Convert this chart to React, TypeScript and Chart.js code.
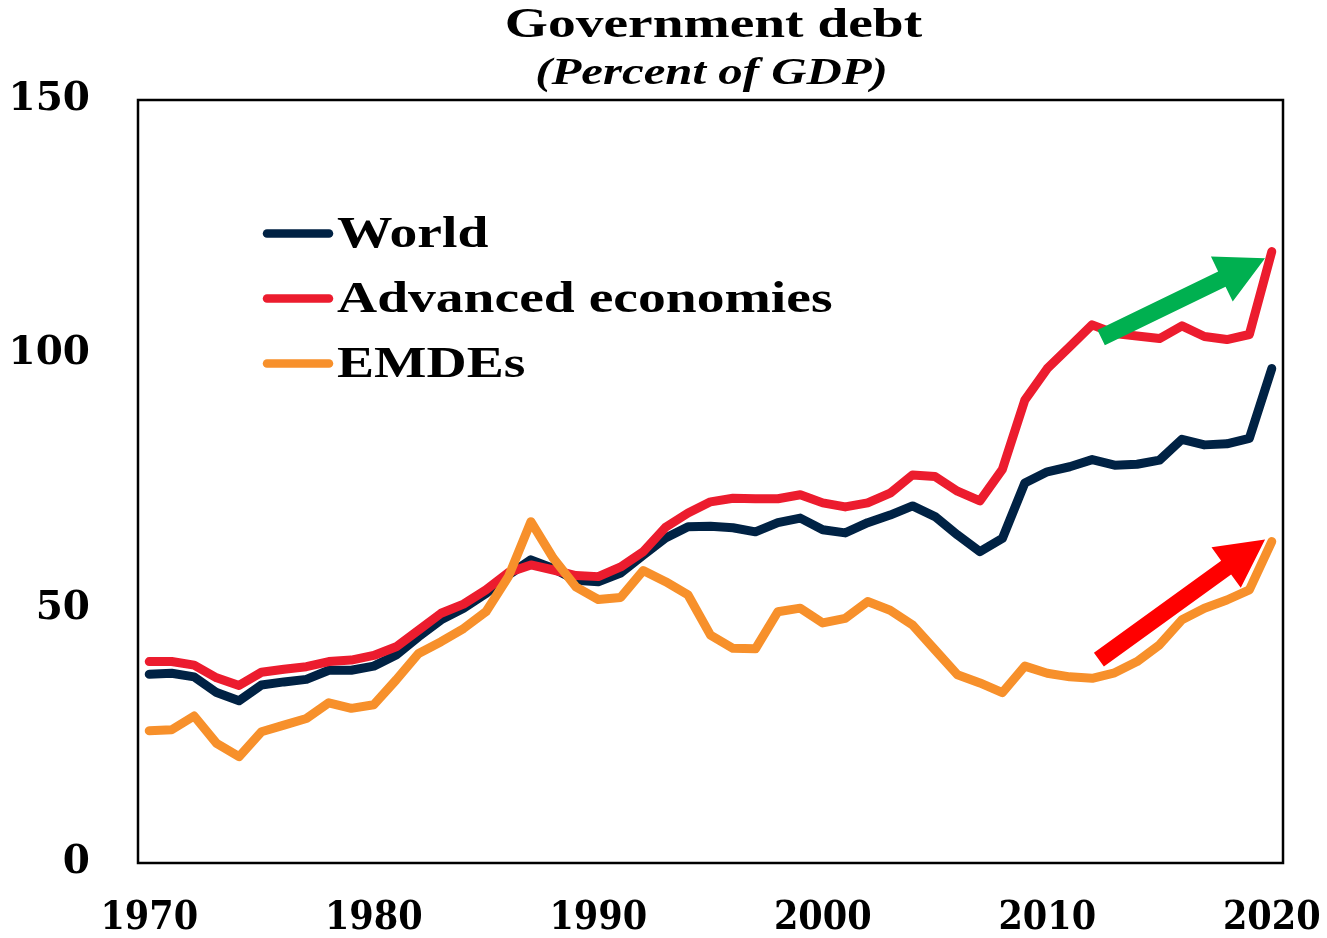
import { useEffect, useRef } from 'react';
import { Chart, registerables } from 'chart.js';

Chart.register(...registerables);

const years = [
  1970, 1971, 1972, 1973, 1974, 1975, 1976, 1977, 1978, 1979,
  1980, 1981, 1982, 1983, 1984, 1985, 1986, 1987, 1988, 1989,
  1990, 1991, 1992, 1993, 1994, 1995, 1996, 1997, 1998, 1999,
  2000, 2001, 2002, 2003, 2004, 2005, 2006, 2007, 2008, 2009,
  2010, 2011, 2012, 2013, 2014, 2015, 2016, 2017, 2018, 2019, 2020,
];

const world = [
  37.1, 37.3, 36.6, 33.5, 31.9, 35.0, 35.6, 36.1, 37.9, 37.9,
  38.7, 40.9, 44.5, 47.8, 50.1, 53.0, 56.6, 59.6, 57.9, 55.6,
  55.3, 57.0, 60.5, 63.9, 66.1, 66.2, 65.9, 65.1, 66.9, 67.8,
  65.5, 64.9, 66.9, 68.4, 70.2, 68.1, 64.5, 61.2, 63.8, 74.7,
  76.9, 77.9, 79.3, 78.2, 78.4, 79.2, 83.3, 82.2, 82.4, 83.5, 97.2,
];

const advanced = [
  39.6, 39.6, 38.9, 36.4, 34.9, 37.5, 38.1, 38.6, 39.6, 39.9,
  40.8, 42.5, 45.8, 49.1, 50.9, 53.7, 57.1, 58.6, 57.6, 56.5,
  56.3, 58.2, 61.2, 66.0, 68.8, 71.0, 71.7, 71.6, 71.6, 72.4,
  70.8, 70.0, 70.8, 72.7, 76.3, 76.0, 73.1, 71.2, 77.4, 91.0,
  97.2, 101.5, 105.8, 104.1, 103.6, 103.1, 105.6, 103.5, 102.9, 103.9, 120.2,
];

const emdes = [
  26.0, 26.2, 28.9, 23.5, 20.9, 25.8, 27.1, 28.4, 31.5, 30.4,
  31.1, 36.0, 41.2, 43.5, 46.1, 49.4, 56.3, 67.1, 59.9, 54.3,
  51.8, 52.2, 57.5, 55.3, 52.7, 44.8, 42.2, 42.1, 49.4, 50.1,
  47.2, 48.1, 51.4, 49.7, 46.8, 41.9, 37.0, 35.4, 33.5, 38.7,
  37.3, 36.6, 36.3, 37.4, 39.6, 42.9, 47.8, 50.1, 51.7, 53.7, 63.2,
];

const xTickLabels = ['1970', '1980', '1990', '2000', '2010', '2020'];
const yMin = 0;
const yMax = 150;
const yStep = 50;

const seriesLabels = ['World', 'Advanced economies', 'EMDEs'];
const seriesColors = ['#002244', '#EC1C2E', '#F7902B'];

const titleText = 'Government debt';
const subtitleText = '(Percent of GDP)';

// Arrow annotations in data units: [year, value]
const arrowColors = ['#00B050', '#FF0000'];
const arrowFrom = [
  [2012.4, 103.3],
  [2012.3, 40.0],
];
const arrowTo = [
  [2019.7, 118.9],
  [2019.7, 63.6],
];

function drawStretched(
  ctx: CanvasRenderingContext2D,
  text: string,
  x: number,
  y: number,
  font: string,
  sx: number,
  align: CanvasTextAlign
) {
  ctx.save();
  ctx.translate(x, y);
  ctx.scale(sx, 1);
  ctx.font = font;
  ctx.fillStyle = '#000';
  ctx.textAlign = align;
  ctx.textBaseline = 'alphabetic';
  ctx.fillText(text, 0, 0);
  ctx.restore();
}

const decorPlugin = {
  id: 'decor',
  afterDraw(chart: any) {
    const ctx: CanvasRenderingContext2D = chart.ctx;
    const a = chart.chartArea;
    const cx = (a.left + a.right) / 2;
    // title & subtitle
    drawStretched(ctx, titleText, cx + 3, 29, "bold 42px 'Liberation Serif'", 1.32, 'center');
    drawStretched(ctx, subtitleText, cx + 1, 76, "italic bold 37px 'Liberation Serif'", 1.32, 'center');
    // box
    ctx.save();
    ctx.strokeStyle = '#000';
    ctx.lineWidth = 2.5;
    ctx.strokeRect(a.left, a.top, a.right - a.left, a.bottom - a.top);
    ctx.restore();
  },
  afterDatasetsDraw(chart: any) {
    const ctx: CanvasRenderingContext2D = chart.ctx;
    const a = chart.chartArea;
    const xs = chart.scales.x;
    const ys = chart.scales.y;
    // arrows
    for (let i = 0; i < arrowColors.length; i++) {
      const x0 = xs.getPixelForValue(arrowFrom[i][0] - years[0]);
      const y0 = ys.getPixelForValue(arrowFrom[i][1]);
      const x1 = xs.getPixelForValue(arrowTo[i][0] - years[0]);
      const y1 = ys.getPixelForValue(arrowTo[i][1]);
      const dx = x1 - x0;
      const dy = y1 - y0;
      const len = Math.hypot(dx, dy);
      const ux = dx / len;
      const uy = dy / len;
      const nx = -uy;
      const ny = ux;
      const sw = 8.5; // half shaft
      const hw = 25; // half head
      const hl = 48; // head length
      const bx = x1 - ux * hl;
      const by = y1 - uy * hl;
      ctx.save();
      ctx.fillStyle = arrowColors[i];
      ctx.beginPath();
      ctx.moveTo(x0 + nx * sw, y0 + ny * sw);
      ctx.lineTo(bx + nx * sw, by + ny * sw);
      ctx.lineTo(bx + nx * hw, by + ny * hw);
      ctx.lineTo(x1, y1);
      ctx.lineTo(bx - nx * hw, by - ny * hw);
      ctx.lineTo(bx - nx * sw, by - ny * sw);
      ctx.lineTo(x0 - nx * sw, y0 - ny * sw);
      ctx.closePath();
      ctx.fill();
      ctx.restore();
    }
    // legend
    const ds = chart.data.datasets;
    for (let i = 0; i < ds.length; i++) {
      const base = a.top + 146.5 + i * 65;
      const ly = base - 13;
      ctx.save();
      ctx.strokeStyle = ds[i].borderColor;
      ctx.lineWidth = 8.5;
      ctx.lineCap = 'round';
      ctx.beginPath();
      ctx.moveTo(a.left + 129, ly);
      ctx.lineTo(a.left + 191, ly);
      ctx.stroke();
      ctx.restore();
      drawStretched(ctx, ds[i].label, a.left + 199, base, "bold 45px 'Liberation Serif'", 1.235, 'left');
    }
  },
};

export default function App() {
  const ref = useRef<HTMLCanvasElement | null>(null);

  useEffect(() => {
    if (!ref.current) return;
    const series = [world, advanced, emdes];
    const orders = [2, 1, 0];
    const chart = new Chart(ref.current, {
      type: 'line',
      data: {
        labels: years.map(String),
        datasets: series.map((d, i) => ({
          label: seriesLabels[i],
          data: d,
          borderColor: seriesColors[i],
          backgroundColor: seriesColors[i],
          borderWidth: 9,
          pointRadius: 0,
          tension: 0,
          fill: false,
          borderCapStyle: 'round' as const,
          borderJoinStyle: 'round' as const,
          order: orders[i],
        })),
      },
      options: {
        animation: false,
        responsive: false,
        devicePixelRatio: 1,
        layout: { padding: { top: 92, right: 36, left: 0, bottom: 0 } },
        plugins: {
          legend: { display: false },
          title: { display: false },
          tooltip: { enabled: false },
        },
        scales: {
          x: {
            type: 'category',
            offset: true,
            grid: { display: false, drawTicks: false },
            border: { display: false },
            afterFit: (s: any) => {
              s.height = 67;
              s.paddingLeft = 0;
              s.paddingRight = 0;
              s.paddingTop = 0;
              s.paddingBottom = 0;
            },
            ticks: {
              autoSkip: false,
              maxRotation: 0,
              minRotation: 0,
              padding: 32,
              color: '#000',
              font: { family: "'DejaVu Serif Condensed', 'DejaVu Serif'", weight: 'bold', size: 39 },
              callback: function (this: any, value: any) {
                const lab = this.getLabelForValue(value);
                return xTickLabels.includes(lab) ? lab : '';
              },
            },
          },
          y: {
            min: yMin,
            max: yMax,
            grid: { display: false, drawTicks: false },
            border: { display: false },
            afterFit: (s: any) => {
              s.width = 130;
              s.paddingLeft = 0;
              s.paddingRight = 0;
              s.paddingTop = 0;
              s.paddingBottom = 0;
            },
            ticks: {
              stepSize: yStep,
              padding: 48,
              color: '#000',
              font: { family: "'DejaVu Serif'", weight: 'bold', size: 39 },
            },
          },
        },
      },
      plugins: [decorPlugin],
    });
    return () => chart.destroy();
  }, []);

  return (
    <div style={{ width: 1311, height: 922 }}>
      <canvas ref={ref} width={1311} height={922} style={{ display: 'block' }} />
    </div>
  );
}
